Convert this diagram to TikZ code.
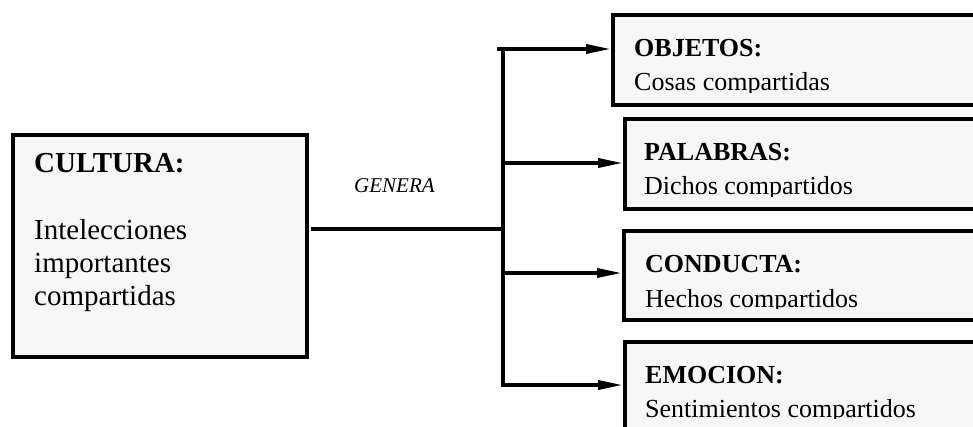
\documentclass[tikz,border=0pt]{standalone}
\usepackage{fontspec}
\setmainfont{Liberation Serif}
\usetikzlibrary{arrows.meta}
\definecolor{boxgray}{RGB}{247,247,247}
\begin{document}
\begin{tikzpicture}[x=1pt,y=-1pt,
  box/.style={draw=black, line width=4pt, fill=boxgray, inner sep=0pt,
              anchor=north west, minimum width=#1},
  box/.default=380pt,
  link/.style={line width=3.5pt, line join=miter},
  arr/.style={link, -{Triangle[length=25pt,width=9pt]}},
  bigtitle/.style={anchor=base west, inner sep=0pt, font=\fontsize{29}{33}\selectfont\bfseries},
  bigbody/.style={anchor=base west, inner sep=0pt, font=\fontsize{29}{33}\selectfont},
  title/.style={anchor=base west, inner sep=0pt, font=\fontsize{26}{30}\selectfont\bfseries},
  body/.style={anchor=base west, inner sep=0pt, font=\fontsize{26}{30}\selectfont},
  verb/.style={anchor=base west, inner sep=0pt, font=\fontsize{21}{24}\selectfont\itshape}]

\useasboundingbox (0,0) rectangle (973,426);
\clip (0,0) rectangle (973,426);

% source box
\node[box=294pt, minimum height=222pt] (cultura) at (11,133) {};
\node[bigtitle] (culturaT) at (34,172) {CULTURA:};
\node[bigbody] (culturaA) at (34,239) {Intelecciones};
\node[bigbody] (culturaB) at (34,272) {importantes};
\node[bigbody] (culturaC) at (34,305) {compartidas};

% target boxes (running off the right side)
\node[box, minimum height=90pt] (objetos)  at (611,13)  {};
\node[box, minimum height=90pt] (palabras) at (623,117) {};
\node[box, minimum height=89pt] (conducta) at (622,229) {};
\node[box, minimum height=92pt] (emocion)  at (623,340) {};

% box texts, cut off at the lower text edge
\begin{scope}
  \clip (615,15) rectangle (973,92);
  \node[title] (objetosT) at (634,56) {OBJETOS:};
  \node[body]  (objetosB) at (634,90) {Cosas compartidas};
\end{scope}
\begin{scope}
  \clip (627,119) rectangle (973,196);
  \node[title] (palabrasT) at (644,160) {PALABRAS:};
  \node[body]  (palabrasB) at (644,194) {Dichos compartidos};
\end{scope}
\begin{scope}
  \clip (626,231) rectangle (973,308.5);
  \node[title] (conductaT) at (645,272) {CONDUCTA:};
  \node[body]  (conductaB) at (645,307) {Hechos compartidos};
\end{scope}
\begin{scope}
  \clip (627,342) rectangle (973,418.5);
  \node[title] (emocionT) at (645,383) {EMOCION:};
  \node[body]  (emocionB) at (645,417) {Sentimientos compartidos};
\end{scope}

% connector label
\node[verb] (genera) at (354,192) {GENERA};

% connectors
\coordinate (src) at (311,229);
\coordinate (hub) at (503,229);
\coordinate (top) at (503,49);
\coordinate (bot) at (503,385);
\coordinate (mid1) at (503,163);
\coordinate (mid2) at (503,273);

\draw[link] (src) -- (hub);
\draw[arr] (top) -- (bot) -- (emocion.west |- bot);
\draw[arr] ([xshift=-6pt]top) -- (objetos.west |- top);
\draw[arr] (mid1) -- (palabras.west |- mid1);
\draw[arr] (mid2) -- (conducta.west |- mid2);
\end{tikzpicture}
\end{document}
